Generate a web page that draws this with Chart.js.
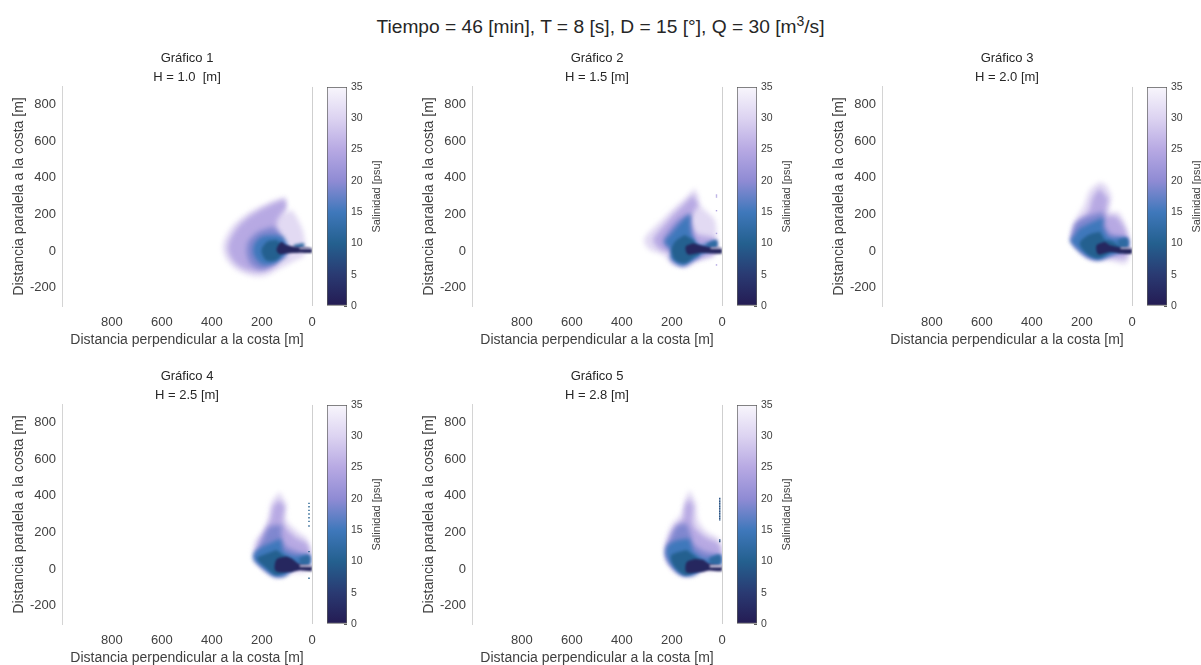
<!DOCTYPE html>
<html lang="es">
<head>
  <meta charset="UTF-8" />
  <title>Salinidad</title>
  <script src="https://cdn.jsdelivr.net/npm/chart.js"></script>
  <style>
    body { margin: 0; background: #fff; font-family: 'Liberation Sans', Arial, sans-serif; }
    #page { position: relative; width: 1201px; height: 665px; overflow: hidden; }
    #suptitulo {
      position: absolute; left: 0; width: 1201px; top: 16px; text-align: center;
      font-size: 19.2px; line-height: 22px; color: #262626;
    }
    #suptitulo sup { font-size: 14px; line-height: 0; }
    canvas { position: absolute; }
  </style>
</head>
<body>
<div id="page">
  <div id="suptitulo">Tiempo = 46 [min], T = 8 [s], D = 15 [°], Q = 30 [m<sup>3</sup>/s]</div>
</div>
<script>
  // datos: contornos de salinidad [x m, y m] por panel
  const tituloGraficos = ['Gráfico 1', 'Gráfico 2', 'Gráfico 3', 'Gráfico 4', 'Gráfico 5'];
  const tituloOlas = ['H = 1.0  [m]', 'H = 1.5 [m]', 'H = 2.0 [m]', 'H = 2.5 [m]', 'H = 2.8 [m]'];
  const ticksX = [0, 200, 400, 600, 800];
  const ticksY = [-200, 0, 200, 400, 600, 800];
  const ticksSalinidad = [0, 5, 10, 15, 20, 25, 30, 35];
  const rangoSalinidad = [0, 35];
  const salinidadColores = ['#241b53', '#2a3a72', '#24608f', '#3f78bb', '#8f8bd4', '#b7a9e3', '#dcd3f1', '#f8f6fc'];

  const p1s31 = [[105,297],[168,269],[248,215],[315,142],[348,69],[357,14],[341,-49],[301,-104],[242,-137],[188,-137],[128,-95],[75,-58],[29,-22],[29,60],[42,133],[82,224],[105,200]];
  const p1s25 = [[108,282],[168,251],[241,196],[295,133],[328,60],[335,5],[315,-53],[275,-95],[208,-113],[142,-77],[115,20],[142,151],[102,242]];
  const p1s19 = [[155,133],[215,105],[255,51],[261,-13],[241,-77],[195,-100],[142,-58],[102,-22],[128,96]];
  const p1s15 = [[148,87],[202,78],[232,33],[232,-22],[202,-71],[155,-71],[122,-40],[95,14],[115,78]];
  const p1s10 = [[142,60],[179,51],[202,5],[185,-49],[148,-53],[122,-22],[115,33]];
  const p1s2 = [[135,33],[142,5],[131,-16],[102,-13],[49,-9],[0,-9],[0,14],[49,20],[102,33],[122,51]];
  const p1s12 = [[75,33],[33,42],[33,20],[69,14]];
  const p1Barra = [[0,17],[50,17],[50,11],[0,11]];
  const p1Puntos = [];

  const p2s31 = [[109,342],[149,287],[202,224],[255,151],[302,87],[312,51],[288,5],[235,-22],[202,-67],[149,-89],[102,-58],[29,-22],[22,60],[29,169],[76,233],[92,269],[92,296]];
  const p2s25 = [[115,305],[155,251],[202,187],[242,124],[275,60],[248,9],[208,-13],[202,-58],[149,-82],[109,-49],[29,-13],[29,69],[102,96],[126,169],[95,251]];
  const p2s19 = [[129,205],[175,169],[215,105],[235,51],[208,5],[175,-40],[89,-31],[115,78]];
  const p2s15 = [[126,205],[162,160],[202,96],[228,51],[202,5],[206,-40],[162,-82],[122,-58],[89,-22],[29,14],[29,56],[89,33],[122,87],[129,151]];
  const p2s10 = [[149,87],[188,51],[202,5],[188,-49],[149,-67],[109,-31],[89,-13],[115,60]];
  const p2s2 = [[115,42],[145,24],[137,-18],[89,-11],[42,-13],[0,-13],[0,14],[42,20],[82,30]];
  const p2s12 = [[62,38],[22,60],[22,20],[62,25]];
  const p2Barra = [[0,19],[46,19],[46,13],[0,13]];
  const p2Puntos = [[22,305],[22,295],[22,220],[22,96],[22,-76]];

  const p3s31 = [[129,378],[169,333],[195,242],[229,169],[242,96],[248,56],[209,5],[155,-49],[89,-53],[22,-67],[13,51],[22,133],[56,214],[89,214],[82,296],[102,360]];
  const p3s25 = [[129,342],[155,296],[175,214],[209,169],[229,133],[238,56],[195,-13],[142,-45],[89,-34],[22,-34],[22,96],[62,187],[102,196],[96,287]];
  const p3s19 = [[116,214],[162,196],[209,169],[229,142],[238,56],[169,-40],[89,-22],[20,24],[20,69],[89,96],[109,142]];
  const p3s15 = [[113,183],[155,160],[209,123],[229,87],[246,56],[195,-13],[136,-49],[82,-22],[20,14],[20,69],[69,69],[96,78],[118,133]];
  const p3s10 = [[129,105],[175,87],[209,42],[182,-13],[136,-40],[89,-9],[49,14],[76,51],[109,60]];
  const p3s2 = [[109,50],[142,30],[135,-18],[89,-6],[49,-13],[0,-13],[0,14],[46,20],[89,32]];
  const p3s12 = [[56,60],[20,69],[20,20],[56,20]];
  const p3Barra = [[0,19],[46,19],[46,13],[0,13]];
  const p3Puntos = [];

  const p4s31 = [[129,422],[162,367],[175,285],[195,213],[228,149],[235,58],[202,4],[142,-51],[82,-23],[12,-5],[16,158],[56,203],[102,267],[102,358]];
  const p4s25 = [[131,376],[155,340],[166,267],[195,194],[219,131],[222,58],[182,-5],[129,-38],[82,-5],[12,22],[16,131],[69,176],[115,249],[109,340]];
  const p4s19 = [[122,240],[169,231],[195,167],[215,104],[224,58],[182,-5],[122,-33],[56,31],[16,67],[102,122],[122,167]];
  const p4s15 = [[126,167],[169,140],[209,113],[232,85],[232,49],[195,4],[155,-38],[109,-38],[69,13],[12,22],[12,76],[69,71],[115,94]];
  const p4s10 = [[142,104],[195,76],[219,58],[182,4],[142,-33],[95,-5],[62,31],[102,63]];
  const p4s2 = [[102,68],[142,52],[146,-9],[89,-18],[49,-7],[0,-11],[0,16],[49,26],[82,58]];
  const p4s12 = [[50,60],[12,76],[12,24],[50,25]];
  const p4Barra = [[0,20],[49,20],[49,13],[0,13]];
  const p4Puntos = [[12,358],[12,340],[12,320],[12,300],[12,280],[12,260],[12,235],[12,95],[12,-50]];

  const p5s31 = [[129,431],[149,376],[162,304],[202,240],[228,140],[224,49],[189,-15],[142,-45],[76,-15],[6,4],[9,158],[62,204],[95,267],[102,358]];
  const p5s25 = [[131,385],[149,340],[155,276],[189,231],[215,149],[219,58],[182,-5],[142,-33],[69,13],[6,31],[9,131],[69,176],[115,240],[115,340]];
  const p5s19 = [[142,249],[182,231],[208,158],[224,113],[219,49],[175,-15],[115,-24],[56,40],[6,67],[82,104],[115,140],[129,204]];
  const p5s15 = [[131,167],[175,158],[215,131],[224,85],[202,22],[162,-33],[115,-33],[69,13],[6,22],[6,76],[69,58],[115,94]];
  const p5s10 = [[142,104],[202,76],[195,22],[149,-33],[109,-15],[69,22],[95,58]];
  const p5s2 = [[109,54],[142,36],[142,-18],[89,-18],[49,-8],[0,-11],[0,16],[49,27],[76,50]];
  const p5s12 = [[50,60],[8,76],[8,24],[50,28]];
  const p5Barra = [[0,20],[49,20],[49,10],[0,10]];
  const p5Puntos = [[9,385],[9,376],[9,367],[9,358],[9,349],[9,340],[9,331],[9,322],[9,313],[9,304],[9,295],[9,286],[9,277],[9,268],[9,158],[9,150]];

  // tabla [salinidad, contorno], lo demas sale de las escalas de Chart.js
  const contornos = [
    [[31,p1s31],[25,p1s25],[19,p1s19],[15,p1s15],[10,p1s10],[12,p1s12],[2,p1s2]],
    [[31,p2s31],[25,p2s25],[19,p2s19],[15,p2s15],[10,p2s10],[12,p2s12],[2,p2s2]],
    [[31,p3s31],[25,p3s25],[19,p3s19],[15,p3s15],[10,p3s10],[12,p3s12],[2,p3s2]],
    [[31,p4s31],[25,p4s25],[19,p4s19],[15,p4s15],[10,p4s10],[12,p4s12],[2,p4s2]],
    [[31,p5s31],[25,p5s25],[19,p5s19],[15,p5s15],[10,p5s10],[12,p5s12],[2,p5s2]]
  ];
  const barras = [p1Barra, p2Barra, p3Barra, p4Barra, p5Barra];
  const puntos = [p1Puntos, p2Puntos, p3Puntos, p4Puntos, p5Puntos];
  const colorPuntos = [26, 24, 26, 10, 8];

  const posX = [0, 410, 820, 0, 410];
  const posY = [0, 0, 0, 318, 318];
  const fuente = "'Liberation Sans', Arial, sans-serif";
  const gris = '#404040';

  function hexRgb(h) {
    return [1, 3, 5].map(i => parseInt(h.substr(i, 2), 16));
  }

  function colorDe(s) {
    const t = s / 35 * (salinidadColores.length - 1);
    const i = Math.min(Math.floor(t), salinidadColores.length - 2);
    const a = hexRgb(salinidadColores[i]), b = hexRgb(salinidadColores[i + 1]);
    const c = a.map((v, k) => Math.round(v + (b[k] - v) * (t - i)));
    return `rgb(${c[0]},${c[1]},${c[2]})`;
  }

  function nuevoCanvas(x, y, w, h) {
    const c = document.createElement('canvas');
    c.width = w;
    c.height = h;
    c.style.left = x + 'px';
    c.style.top = y + 'px';
    document.getElementById('page').appendChild(c);
    return c.getContext('2d');
  }

  // desenfoque del relleno siguiente: las zonas palidas son mas difusas que el nucleo
  function desenfoqueTras(orden) {
    if (orden >= 25) return 'blur(2.4px)';
    if (orden >= 19) return 'blur(2.2px)';
    if (orden >= 12) return 'blur(1.5px)';
    return 'blur(0.8px)';
  }

  // el relleno (filler) se dibuja difuminado, los puntos no
  const difuminado = {
    id: 'difuminado',
    beforeDatasetsDraw(chart) { chart.ctx.save(); chart.ctx.filter = 'blur(2.4px)'; },
    beforeDatasetDraw(chart) { chart.ctx.filter = 'none'; },
    afterDatasetDraw(chart, args) {
      chart.ctx.filter = desenfoqueTras(chart.data.datasets[args.index].order);
    },
    afterDatasetsDraw(chart) { chart.ctx.restore(); }
  };

  const etiquetaBarra = {
    id: 'etiquetaBarra',
    afterDraw(chart) {
      const c = chart.ctx;
      c.save();
      c.translate(55, (chart.chartArea.top + chart.chartArea.bottom) / 2);
      c.rotate(-Math.PI / 2);
      c.font = '11px ' + fuente;
      c.fillStyle = gris;
      c.textAlign = 'center';
      c.textBaseline = 'middle';
      c.fillText('Salinidad [psu]', 0, 0);
      c.restore();
    }
  };

  function sinRelleno(s) {
    s.paddingLeft = s.paddingRight = s.paddingTop = s.paddingBottom = 0;
  }

  function crearPanel(n) {
    const sets = contornos[n].map(([s, poli]) => ({
      data: poli.map(p => ({ x: p[0], y: p[1] })),
      showLine: true, fill: 'shape', tension: 0.3,
      backgroundColor: colorDe(s), borderWidth: 0, pointRadius: 0,
      order: s
    }));
    sets.push({
      data: barras[n].map(p => ({ x: p[0], y: p[1] })),
      showLine: true, fill: 'shape', tension: 0,
      backgroundColor: colorDe(33), borderWidth: 0, pointRadius: 0, order: -1
    });
    sets.push({
      data: puntos[n].map(p => ({ x: p[0], y: p[1] })),
      pointStyle: 'rect', pointRadius: 1, borderWidth: 0,
      backgroundColor: colorDe(colorPuntos[n]), order: -2
    });

    new Chart(nuevoCanvas(posX[n], 49 + posY[n], 318, 301), {
      type: 'scatter',
      data: { datasets: sets },
      plugins: [difuminado],
      options: {
        responsive: false,
        animation: false,
        layout: { padding: { right: 6 } },
        plugins: {
          legend: { display: false },
          tooltip: { enabled: false },
          title: {
            display: true, fullSize: false,
            text: [tituloGraficos[n], tituloOlas[n]],
            color: '#262626',
            font: { family: fuente, size: 13, weight: 'normal', lineHeight: 1.46 },
            padding: { top: 0, bottom: 0 }
          }
        },
        scales: {
          x: {
            type: 'linear', reverse: true, min: 0, max: 999,
            afterBuildTicks(s) { s.ticks = ticksX.map(v => ({ value: v })); },
            afterFit(s) { s.height = 44; sinRelleno(s); },
            border: { display: false },
            grid: {
              drawTicks: false,
              color: c => c.tick && c.tick.value === 0 ? '#cfcfcf' : 'rgba(0,0,0,0)'
            },
            ticks: {
              maxRotation: 0, padding: 9,
              color: gris, font: { family: fuente, size: 13 }
            },
            title: {
              display: true, text: 'Distancia perpendicular a la costa [m]',
              color: gris, font: { family: fuente, size: 14 }, padding: { top: 0, bottom: 1 }
            }
          },
          y: {
            type: 'linear', min: -300, max: 895,
            afterBuildTicks(s) { s.ticks = ticksY.map(v => ({ value: v })); },
            afterFit(s) { s.width = 62; sinRelleno(s); },
            border: { color: '#d4d4d4', width: 1 },
            grid: { display: false, drawTicks: false },
            ticks: {
              padding: 6,
              color: gris, font: { family: fuente, size: 13 }
            },
            title: {
              display: true, text: 'Distancia paralela a la costa [m]',
              color: gris, font: { family: fuente, size: 14 }, padding: { top: 11, bottom: 0 }
            }
          }
        }
      }
    });

    new Chart(nuevoCanvas(322 + posX[n], 79 + posY[n], 72, 235), {
      type: 'bar',
      data: {
        labels: ['Salinidad'],
        datasets: [{
          data: [rangoSalinidad],
          barPercentage: 1, categoryPercentage: 1,
          borderColor: '#5a5a5a', borderWidth: 1, borderSkipped: false,
          backgroundColor(ctx) {
            const a = ctx.chart.chartArea;
            if (!a) return salinidadColores[0];
            const g = ctx.chart.ctx.createLinearGradient(0, a.bottom, 0, a.top);
            salinidadColores.forEach((col, i) => g.addColorStop(i / (salinidadColores.length - 1), col));
            return g;
          }
        }]
      },
      plugins: [etiquetaBarra],
      options: {
        responsive: false,
        animation: false,
        layout: { padding: { left: 5, top: 8, bottom: 8 } },
        plugins: { legend: { display: false }, tooltip: { enabled: false } },
        scales: {
          x: { display: false },
          y: {
            position: 'right', min: 0, max: 35,
            afterBuildTicks(s) { s.ticks = ticksSalinidad.map(v => ({ value: v })); },
            afterFit(s) { s.width = 47; sinRelleno(s); },
            border: { display: false },
            grid: { drawOnChartArea: false, tickLength: -3, color: '#5a5a5a' },
            ticks: { padding: 7, color: gris, font: { family: fuente, size: 10.5 } }
          }
        }
      }
    });
  }

  for (let n = 0; n < 5; n++) crearPanel(n);
</script>
</body>
</html>
